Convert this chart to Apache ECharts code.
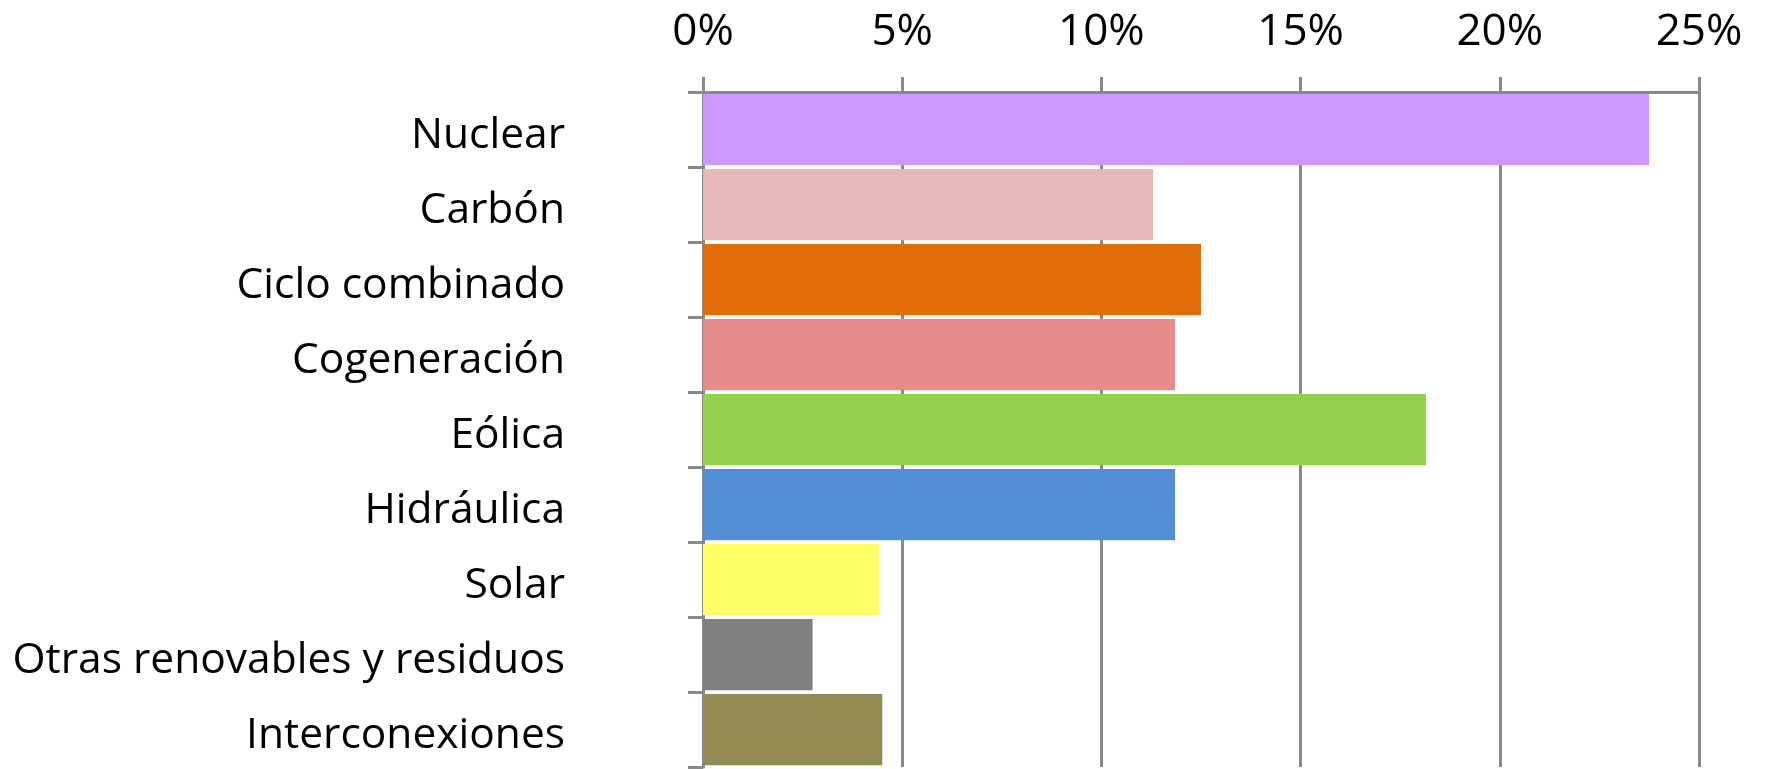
<!DOCTYPE html>
<html>
<head>
<meta charset="utf-8">
<script src="https://cdn.jsdelivr.net/npm/echarts@6/dist/echarts.min.js"></script>
<style>
html,body{margin:0;padding:0;background:#fff;}
#chart{width:1767px;height:769px;}
</style>
</head>
<body>
<div id="chart"></div>
<script>
const categories = ['Nuclear', 'Carbón', 'Ciclo combinado', 'Cogeneración', 'Eólica', 'Hidráulica', 'Solar', 'Otras renovables y residuos', 'Interconexiones'];
const values = [23.75, 11.3, 12.5, 11.85, 18.15, 11.85, 4.43, 2.75, 4.5];
const colors = ['#CC99FF', '#E6B8B7', '#E36C0A', '#E88B8B', '#92D050', '#558ED5', '#FFFF66', '#808080', '#948A54'];
const xTicks = [0, 5, 10, 15, 20, 25];

const FONT = '"Liberation Sans Narrow", "Open Sans", sans-serif';
const chart = echarts.init(document.getElementById('chart'));
chart.setOption({
  animation: false,
  grid: { left: 703, top: 92, right: 68, bottom: 2, containLabel: false, outerBoundsMode: 'none' },
  xAxis: {
    type: 'value',
    position: 'top',
    min: xTicks[0],
    max: xTicks[xTicks.length - 1],
    interval: 5,
    axisLine: { show: true, lineStyle: { color: '#898989', width: 3 } },
    axisTick: { show: true, length: 15, lineStyle: { color: '#898989', width: 3 } },
    splitLine: { show: true, lineStyle: { color: '#898989', width: 3 } },
    axisLabel: { formatter: v => v + '%', color: '#000', fontSize: 44, fontFamily: FONT, margin: 38 }
  },
  yAxis: {
    type: 'category',
    inverse: true,
    data: categories,
    axisLine: { show: true, lineStyle: { color: '#898989', width: 3 } },
    axisTick: { show: true, length: 15, lineStyle: { color: '#898989', width: 3 } },
    axisLabel: {
      color: '#000', fontSize: 42.5, fontFamily: FONT, margin: 138,
      formatter: v => '{a|' + v + '}',
      rich: { a: { color: '#000', fontSize: 42.5, fontFamily: FONT, padding: [12, 0, 0, 0] } }
    }
  },
  series: [{
    type: 'bar',
    barCategoryGap: '5%',
    data: values.map((v, i) => ({ value: v, itemStyle: { color: colors[i] } })),
    z: 1
  }]
});
</script>
</body>
</html>
